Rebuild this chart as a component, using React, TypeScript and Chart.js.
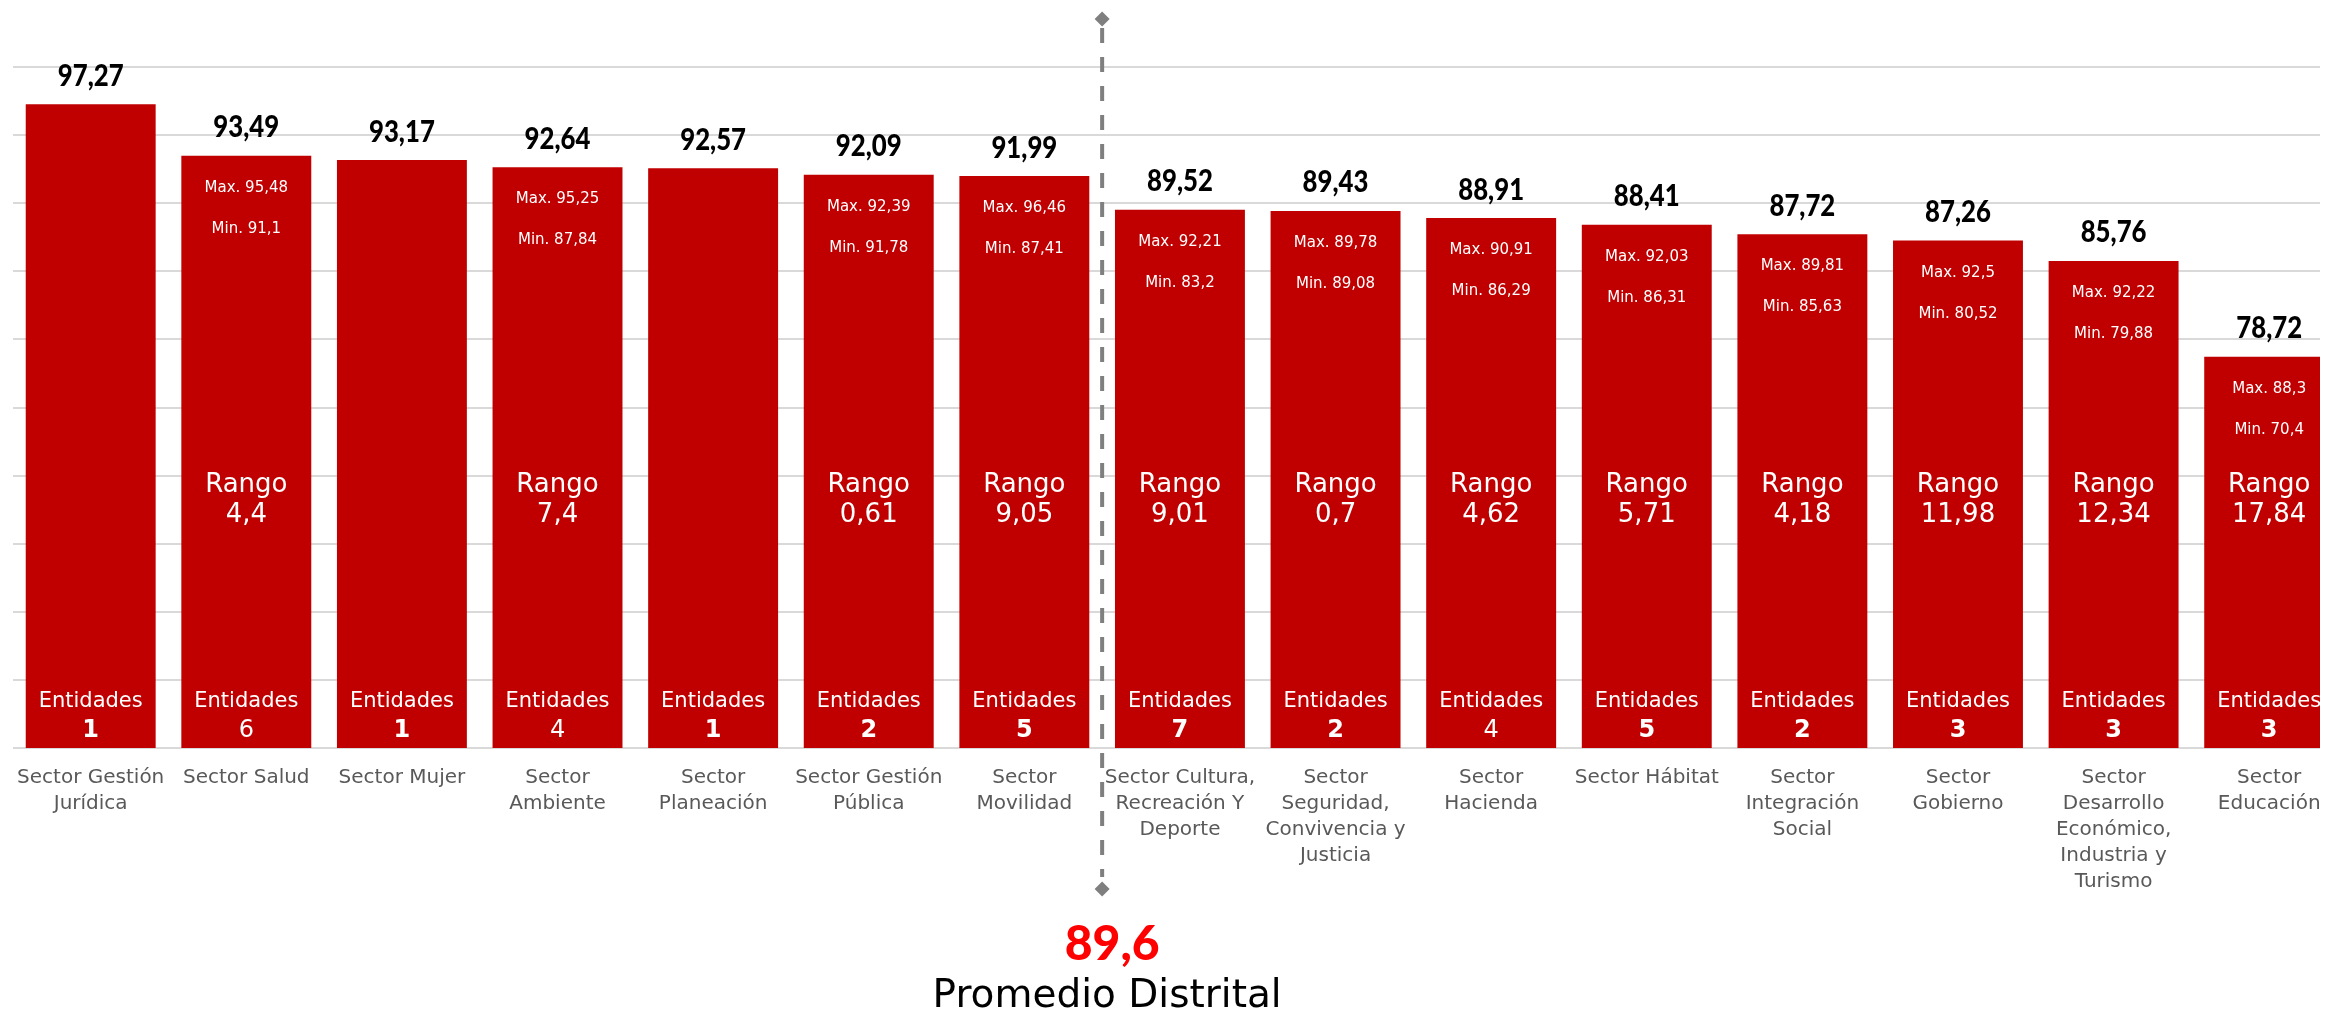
import { useEffect, useRef } from "react";
import { Chart, registerables } from "chart.js";

Chart.register(...registerables);

const categories: string[][] = [
  ["Sector Gestión", "Jurídica"],
  ["Sector Salud"],
  ["Sector Mujer"],
  ["Sector", "Ambiente"],
  ["Sector", "Planeación"],
  ["Sector Gestión", "Pública"],
  ["Sector", "Movilidad"],
  ["Sector Cultura,", "Recreación Y", "Deporte"],
  ["Sector", "Seguridad,", "Convivencia y", "Justicia"],
  ["Sector", "Hacienda"],
  ["Sector Hábitat"],
  ["Sector", "Integración", "Social"],
  ["Sector", "Gobierno"],
  ["Sector", "Desarrollo", "Económico,", "Industria y", "Turismo"],
  ["Sector", "Educación"],
];

const scores = [97.27, 93.49, 93.17, 92.64, 92.57, 92.09, 91.99, 89.52, 89.43, 88.91, 88.41, 87.72, 87.26, 85.76, 78.72];
const maxValues: (number | null)[] = [null, 95.48, null, 95.25, null, 92.39, 96.46, 92.21, 89.78, 90.91, 92.03, 89.81, 92.5, 92.22, 88.3];
const minValues: (number | null)[] = [null, 91.1, null, 87.84, null, 91.78, 87.41, 83.2, 89.08, 86.29, 86.31, 85.63, 80.52, 79.88, 70.4];
const ranges: (number | null)[] = [null, 4.4, null, 7.4, null, 0.61, 9.05, 9.01, 0.7, 4.62, 5.71, 4.18, 11.98, 12.34, 17.84];
const entities = [1, 6, 1, 4, 1, 2, 5, 7, 2, 4, 5, 2, 3, 3, 3];
const entitiesBold = [true, false, true, false, true, true, true, true, true, false, true, true, true, true, true];

const districtAverage = 89.6;
const averageLineAfterIndex = 6;

const yMin = 50;
const yMax = 100;
const yStep = 5;

const fmt = (v: number) => String(v).replace(".", ",");

const LIGHT = '"DejaVu Sans", sans-serif';
const BOLD = "Lato, sans-serif";

const annotationsPlugin = {
  id: "annotations",
  afterDatasetsDraw(chart: any) {
    const ctx: CanvasRenderingContext2D = chart.ctx;
    const meta = chart.getDatasetMeta(0);
    const area = chart.chartArea;
    ctx.save();
    ctx.textAlign = "center";
    ctx.textBaseline = "alphabetic";
    meta.data.forEach((bar: any, i: number) => {
      const x = bar.x;
      const y = bar.y;
      ctx.fillStyle = "#000000";
      ctx.font = `900 28px ${BOLD}`;
      ctx.save();
      ctx.translate(x, y - 18.5);
      ctx.scale(0.92, 1.05);
      ctx.fillText(fmt(scores[i]), 0, 0);
      ctx.restore();

      ctx.fillStyle = "#ffffff";
      const mx = maxValues[i];
      const mn = minValues[i];
      const rg = ranges[i];
      if (mx != null && mn != null) {
        ctx.font = `15px ${LIGHT}`;
        ctx.fillText("Max. " + fmt(mx), x, y + 36);
        ctx.fillText("Min. " + fmt(mn), x, y + 77);
      }
      if (rg != null) {
        ctx.font = `26px ${LIGHT}`;
        ctx.fillText("Rango", x, area.bottom - 256);
        ctx.fillText(fmt(rg), x, area.bottom - 226);
      }
      ctx.font = `21px ${LIGHT}`;
      ctx.fillText("Entidades", x, area.bottom - 41);
      ctx.font = `${entitiesBold[i] ? "bold " : ""}24px ${LIGHT}`;
      ctx.fillText(String(entities[i]), x, area.bottom - 11);
    });

    // district average reference line (between categories)
    const a = meta.data[averageLineAfterIndex];
    const b = meta.data[averageLineAfterIndex + 1];
    const lx = (a.x + b.x) / 2;
    const top = area.top - 48;
    const bottom = area.bottom + 141;
    ctx.strokeStyle = "#7f7f7f";
    ctx.fillStyle = "#7f7f7f";
    ctx.lineWidth = 4;
    ctx.setLineDash([15, 14]);
    ctx.beginPath();
    ctx.moveTo(lx, top + 9);
    ctx.lineTo(lx, bottom - 12);
    ctx.stroke();
    ctx.setLineDash([]);
    const diamond = (cx: number, cy: number) => {
      ctx.beginPath();
      ctx.moveTo(cx, cy - 7.5);
      ctx.lineTo(cx + 7.5, cy);
      ctx.lineTo(cx, cy + 7.5);
      ctx.lineTo(cx - 7.5, cy);
      ctx.closePath();
      ctx.fill();
    };
    diamond(lx, top);
    diamond(lx, bottom);

    ctx.fillStyle = "#ff0000";
    ctx.font = `900 48px ${BOLD}`;
    ctx.fillText(fmt(districtAverage), lx + 10, area.bottom + 212);
    ctx.fillStyle = "#000000";
    ctx.font = `39px ${LIGHT}`;
    ctx.fillText("Promedio Distrital", lx + 5, area.bottom + 259);
    ctx.restore();
  },
};

export default function App() {
  const canvasRef = useRef<HTMLCanvasElement | null>(null);

  useEffect(() => {
    document.documentElement.style.overflow = "hidden";
    document.body.style.overflow = "hidden";
    const canvas = canvasRef.current;
    if (!canvas) return;
    const chart = new Chart(canvas, {
      type: "bar",
      data: {
        labels: categories,
        datasets: [
          {
            data: scores,
            backgroundColor: "#c00000",
            borderWidth: 0,
            categoryPercentage: 1,
            barPercentage: 0.835,
          },
        ],
      },
      options: {
        responsive: false,
        animation: false,
        devicePixelRatio: 1,
        layout: { padding: { top: 59, left: 3, right: 0, bottom: 118 } },
        plugins: {
          legend: { display: false },
          tooltip: { enabled: false },
          title: { display: false },
        },
        scales: {
          x: {
            grid: { display: false },
            border: { display: false },
            ticks: {
              autoSkip: false,
              maxRotation: 0,
              minRotation: 0,
              padding: 9,
              color: "#595959",
              font: { family: "DejaVu Sans", size: 20, lineHeight: 1.3 },
            },
            afterFit: (scale: any) => {
              scale.height = 150;
            },
          },
          y: {
            min: yMin,
            max: yMax,
            ticks: { display: false, stepSize: yStep },
            grid: { color: "#d9d9d9", lineWidth: 2, drawTicks: false },
            border: { display: false },
            afterFit: (scale: any) => {
              scale.width = 0;
            },
          },
        },
      },
      plugins: [annotationsPlugin],
    });
    return () => chart.destroy();
  }, []);

  return (
    <div style={{ width: 2339, height: 1008 }}>
      <canvas ref={canvasRef} width={2339} height={1008} style={{ display: "block", width: 2339, height: 1008 }} />
    </div>
  );
}
